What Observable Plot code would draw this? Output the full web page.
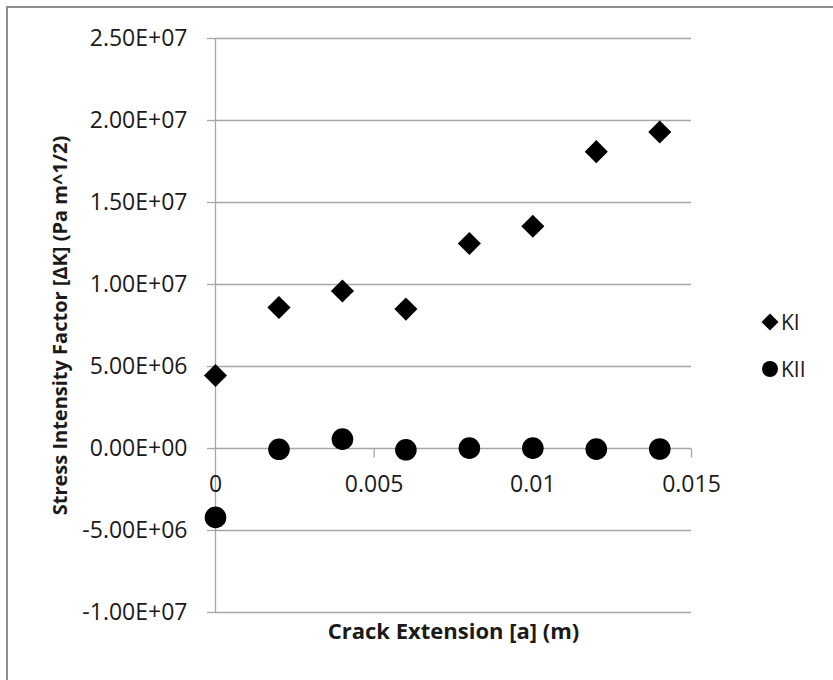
<!DOCTYPE html>
<html>
<head>
<meta charset="utf-8">
<script src="https://cdn.jsdelivr.net/npm/d3@7"></script>
<script src="https://cdn.jsdelivr.net/npm/@observablehq/plot@0.6"></script>
<style>
  html, body { margin: 0; padding: 0; background: #fff; }
  body { width: 833px; height: 680px; overflow: hidden; position: relative; font-family: "Open Sans", Lato, sans-serif; }
  #frame { position: absolute; left: 6px; top: 6px; width: 900px; height: 900px; border-top: 2px solid #8f8f8f; border-left: 2px solid #8f8f8f; pointer-events: none; }
  #chart { position: absolute; left: 0; top: 0; }
  #legend { position: absolute; left: 761px; top: 308px; font-size: 21px; color: #1a1a1a; }
  .item { display: flex; align-items: center; height: 28px; margin-bottom: 19px; }
  .item svg { margin-right: 2px; }
</style>
</head>
<body>
<div id="chart"></div>
<div id="legend"></div>
<div id="frame"></div>
<script>
const xValues = [0, 0.002, 0.004, 0.006, 0.008, 0.01, 0.012, 0.014];
const kI = [4.45e6, 8.6e6, 9.6e6, 8.5e6, 12.5e6, 13.55e6, 18.1e6, 19.3e6];
const kII = [-4.2e6, -0.05e6, 0.57e6, -0.08e6, 0.02e6, 0.02e6, -0.04e6, -0.03e6];
const seriesNames = ["KI", "KII"];
const yTicks = [-1e7, -5e6, 0, 5e6, 1e7, 1.5e7, 2e7, 2.5e7];
const yTickLabels = ["-1.00E+07", "-5.00E+06", "0.00E+00", "5.00E+06", "1.00E+07", "1.50E+07", "2.00E+07", "2.50E+07"];
const xTicks = [0, 0.005, 0.01, 0.015];
const xTickLabels = ["0", "0.005", "0.01", "0.015"];
const xTitle = "Crack Extension [a] (m)";
const yTitle = "Stress Intensity Factor [ΔK] (Pa m^1/2)";

const rows = [
  ...xValues.map((x, i) => ({x, y: kI[i], s: seriesNames[0]})),
  ...xValues.map((x, i) => ({x, y: kII[i], s: seriesNames[1]}))
];

const grid = "#a6a6a6";
const ink = "#1a1a1a";
const font = "'Open Sans', Lato, sans-serif";
const tickDown = { draw(ctx) { ctx.moveTo(0, 0); ctx.lineTo(0, 9); } };

const chart = Plot.plot({
  width: 833,
  height: 680,
  marginLeft: 215,
  marginRight: 142,
  marginTop: 38,
  marginBottom: 68,
  style: { fontFamily: font, background: "transparent", overflow: "visible" },
  x: { domain: [0, 0.015], axis: null },
  y: { domain: [-1e7, 2.5e7], axis: null },
  marks: [
    Plot.gridY(yTicks, { stroke: grid, strokeOpacity: 1, strokeWidth: 1.3 }),
    Plot.axisY(yTicks, {
      tickSize: 8, tickPadding: 20, stroke: grid, strokeWidth: 1.3, fill: ink,
      fontSize: 23, label: null,
      tickFormat: d => yTickLabels[yTicks.indexOf(d)]
    }),
    Plot.ruleX([0], { stroke: grid, strokeWidth: 1.3 }),
    Plot.dot(xTicks.slice(1), { x: d => d, y: () => 0, symbol: tickDown, stroke: grid, strokeWidth: 1.3, fill: "none" }),
    Plot.text(xTicks, { x: d => d, y: () => 0, dy: 36, text: (d, i) => xTickLabels[i], fontSize: 23, fill: ink }),
    Plot.dot(rows.filter(d => d.s === "KI"), { x: "x", y: "y", symbol: "diamond2", r: 10.4, fill: "#000", stroke: "none" }),
    Plot.dot(rows.filter(d => d.s === "KII"), { x: "x", y: "y", symbol: "circle", r: 10.8, fill: "#000", stroke: "none" }),
    Plot.text([yTitle], { text: d => d, frameAnchor: "left", textAnchor: "middle", dx: -155, rotate: -90, fontWeight: "bold", fontSize: 20, fill: ink }),
    Plot.text([xTitle], { text: d => d, frameAnchor: "bottom", dy: 26, fontWeight: "bold", fontSize: 22, fill: ink })
  ]
});
document.getElementById("chart").append(chart);

const legend = document.getElementById("legend");
const shapes = {
  KI: '<svg width="18" height="18" viewBox="-9 -9 18 18"><path d="M0,-8.5L8.5,0L0,8.5L-8.5,0Z" fill="#000"/></svg>',
  KII: '<svg width="18" height="18" viewBox="-9 -9 18 18"><circle r="8" fill="#000"/></svg>'
};
seriesNames.forEach(name => {
  const div = document.createElement("div");
  div.className = "item";
  div.innerHTML = shapes[name] + "<span>" + name + "</span>";
  legend.append(div);
});
</script>
</body>
</html>
